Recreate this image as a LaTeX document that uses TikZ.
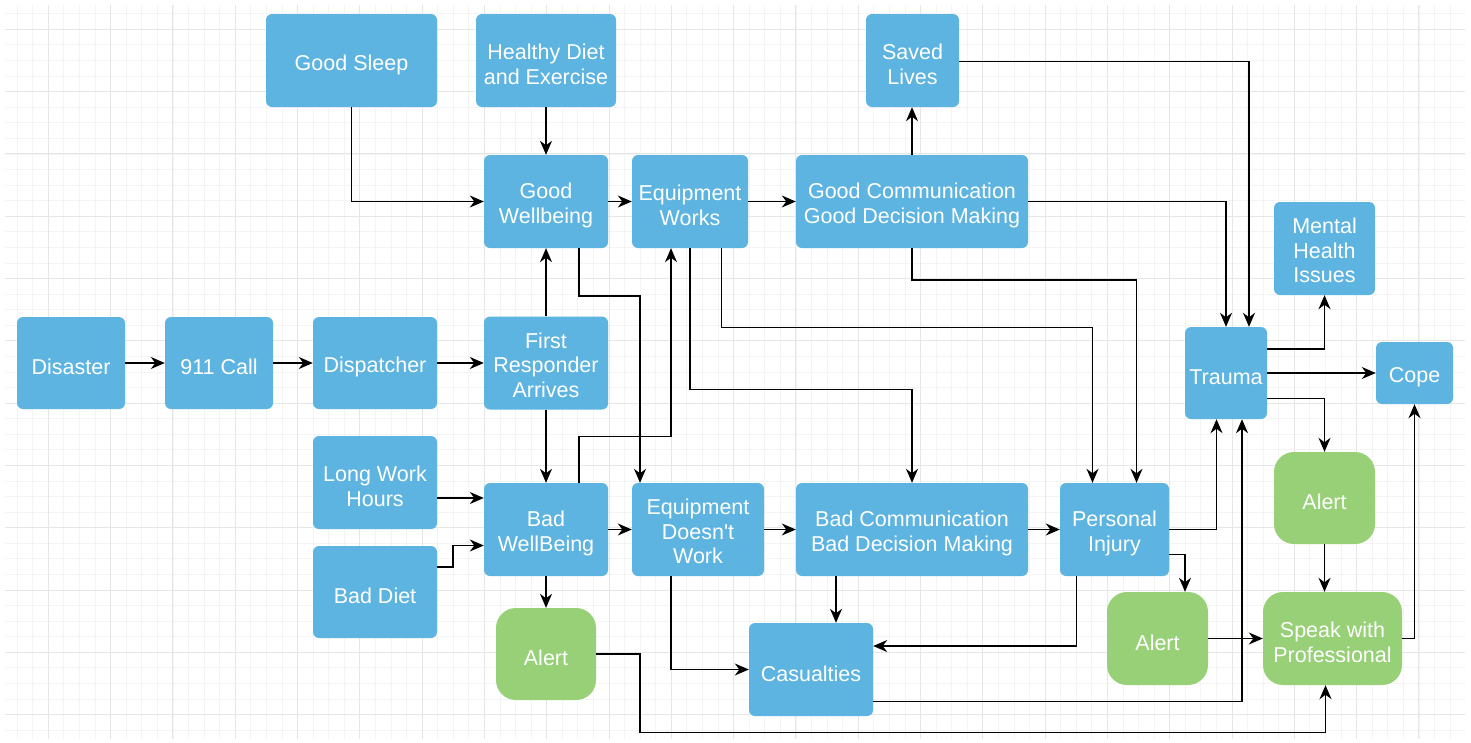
\documentclass[tikz,border=0pt]{standalone}
\usepackage{fontspec}
\setmainfont{Liberation Sans}
\usetikzlibrary{arrows.meta,calc}
\definecolor{boxblue}{HTML}{5DB4E0}
\definecolor{boxgreen}{HTML}{97D077}
\definecolor{gridminor}{HTML}{F4F4F4}
\definecolor{gridmajor}{HTML}{E6E6E6}
\newcommand{\topstrut}{\rule{0pt}{23.5pt}}
\newcommand{\topstrutiii}{\rule{0pt}{19.5pt}}
\tikzset{
  bbox/.style={fill=boxblue, rounded corners=6pt, text=white, align=center, inner sep=0pt,
    font=\fontsize{21.5pt}{24.5pt}\selectfont},
  gbox/.style={bbox, fill=boxgreen, rounded corners=20pt},
  arr/.style={draw=black, line width=1.5pt, -{Stealth[length=14pt,width=12pt,inset=4.5pt]}},
  minorgrid/.style={draw=gridminor, line width=0.8pt},
  majorgrid/.style={draw=gridmajor, line width=1pt}
}
\begin{document}
\begin{tikzpicture}[x=1pt,y=-1pt]
\useasboundingbox (0,0) rectangle (1471,742);
\fill[white] (0,0) rectangle (1471,742);
% grid
\begin{scope}
\clip (5,5) rectangle (1465,738);
\foreach \i in {0,...,95} {
  \draw[minorgrid] ({1.575+\i*15.575},0) -- ++(0,750);
  \draw[minorgrid] (0,{-1.85+\i*15.575}) -- ++(1480,0);
}
\foreach \i in {-1,...,24} {
  \draw[majorgrid] ({48.3+\i*62.3},0) -- ++(0,750);
  \draw[majorgrid] (0,{29.3+\i*62.3}) -- ++(1480,0);
}
\end{scope}
% nodes
\node[bbox, minimum width=171pt, minimum height=93pt] (sleep) at (351.5,60.5) {\topstrut Good Sleep};
\node[bbox, minimum width=140pt, minimum height=93pt] (diet) at (546,60.5) {\topstrut Healthy Diet\\and Exercise};
\node[bbox, minimum width=93pt, minimum height=93pt] (saved) at (912.5,60.5) {\topstrut Saved\\Lives};
\node[bbox, minimum width=124pt, minimum height=93pt] (gw) at (546,201.5) {\topstrut Good\\Wellbeing};
\node[bbox, minimum width=116pt, minimum height=93pt] (ew) at (690,201.5) {\topstrut Equipment\\Works};
\node[bbox, minimum width=232pt, minimum height=93pt] (gc) at (912,201.5) {\topstrut Good Communication\\Good Decision Making};
\node[bbox, minimum width=101pt, minimum height=93pt] (mental) at (1324.5,248.5) {\topstrutiii Mental\\Health\\Issues};
\node[bbox, minimum width=108pt, minimum height=92pt] (disaster) at (71,363) {\topstrut Disaster};
\node[bbox, minimum width=108pt, minimum height=92pt] (call) at (219,363) {\topstrut 911 Call};
\node[bbox, minimum width=124pt, minimum height=92pt] (disp) at (375,363) {\topstrut Dispatcher};
\node[bbox, minimum width=124pt, minimum height=93pt] (fr) at (546,363) {\topstrutiii First\\Responder\\Arrives};
\node[bbox, minimum width=82pt, minimum height=92pt] (trauma) at (1226,373) {\topstrut Trauma};
\node[bbox, minimum width=77pt, minimum height=62pt] (cope) at (1414.5,373) {\topstrut Cope};
\node[bbox, minimum width=124pt, minimum height=93pt] (long) at (375,482.5) {\topstrut Long Work\\Hours};
\node[bbox, minimum width=124pt, minimum height=93pt] (bw) at (546,529.5) {\topstrut Bad\\WellBeing};
\node[bbox, minimum width=132pt, minimum height=93pt] (edw) at (698,529.5) {\topstrutiii Equipment\\Doesn\textquotesingle t\\Work};
\node[bbox, minimum width=232pt, minimum height=93pt] (bc) at (912,529.5) {\topstrut Bad Communication\\Bad Decision Making};
\node[bbox, minimum width=109pt, minimum height=93pt] (pi) at (1114.5,529.5) {\topstrut Personal\\Injury};
\node[gbox, minimum width=101pt, minimum height=92pt] (alertT) at (1324.5,498) {\topstrut Alert};
\node[bbox, minimum width=124pt, minimum height=92pt] (baddiet) at (375,592) {\topstrut Bad Diet};
\node[gbox, minimum width=100pt, minimum height=92pt] (alertB) at (546,654) {\topstrut Alert};
\node[bbox, minimum width=124pt, minimum height=93pt] (cas) at (811,669.5) {\topstrut Casualties};
\node[gbox, minimum width=101pt, minimum height=93pt] (alertI) at (1157.5,638.5) {\topstrut Alert};
\node[gbox, minimum width=139pt, minimum height=93pt] (speak) at (1332.5,638.5) {\topstrut Speak with\\Professional};
% helper coordinates
\coordinate (l1) at ([yshift=-15.5pt]long.east);
\coordinate (bd1) at ([yshift=25pt]baddiet.east);
\coordinate (bw1) at ([yshift=-16pt]bw.west);
\coordinate (b1) at ([xshift=-76pt]bc.south);
\coordinate (t1) at (alertT.south);
% connectors
\draw[arr] (sleep.south) |- (gw.west);
\draw[arr] (diet.south) -- (gw.north);
\draw[arr] (gw.east) -- (ew.west);
\draw[arr] (ew.east) -- (gc.west);
\draw[arr] (gc.north) -- (gc.north |- saved.south);
\draw[arr] ([yshift=-1pt]saved.east) -| ([xshift=23pt]trauma.north);
\draw[arr] (gc.east) -| (trauma.north);
\draw[arr] ([yshift=24pt]trauma.east) -| (mental.south);
\draw[arr] (trauma.east) -- (cope.west);
\draw[arr] ([yshift=-25.7pt]trauma.east) -| (alertT.north);
\draw[arr] (disaster.east) -- (call.west);
\draw[arr] (call.east) -- (disp.west);
\draw[arr] (disp.east) -- (fr.west);
\draw[arr] (fr.north) -- (gw.south);
\draw[arr] (fr.south) -- (bw.north);
\draw[arr] (l1) -- (l1 -| bw.west);
\draw[arr] (bd1) -- ++(16,0) |- (bw1);
\draw[arr] (bw.east) -- (edw.west);
\draw[arr] (edw.east) -- (bc.west);
\draw[arr] (bc.east) -- (pi.west);
\draw[arr] (bw.south) -- (alertB.north);
\draw[arr] ([xshift=33pt]gw.south) -- ++(0,48) -| ([xshift=-58pt]edw.north);
\draw[arr] ([xshift=33pt]bw.north) -- ++(0,-46.3) -| ([xshift=-19pt]ew.south);
\draw[arr] (ew.south) -- ++(0,141.3) -| (bc.north);
\draw[arr] ([xshift=31.7pt]ew.south) -- ++(0,79.3) -| ([xshift=-22pt]pi.north);
\draw[arr] (gc.south) -- ++(0,32) -| ([xshift=22pt]pi.north);
\draw[arr] ([xshift=-27pt]edw.south) |- (cas.west);
\draw[arr] (b1) -- (b1 |- cas.north);
\draw[arr] (pi.east) -| ([xshift=-9.5pt]trauma.south);
\draw[arr] ([yshift=-25pt]pi.east) -| ([xshift=27.5pt]alertI.north);
\draw[arr] ([xshift=-38pt]pi.south) |- ([yshift=23.5pt]cas.east);
\draw[arr] ([yshift=-32pt]cas.east) -| ([xshift=16pt]trauma.south);
\draw[arr] (alertB.east) -- ++(44,0) -- ++(0,78.5) -| ([xshift=-7pt]speak.south);
\draw[arr] (t1) -- (t1 |- speak.north);
\draw[arr] (alertI.east) -- (speak.west);
\draw[arr] (speak.east) -| (cope.south);
\end{tikzpicture}
\end{document}
